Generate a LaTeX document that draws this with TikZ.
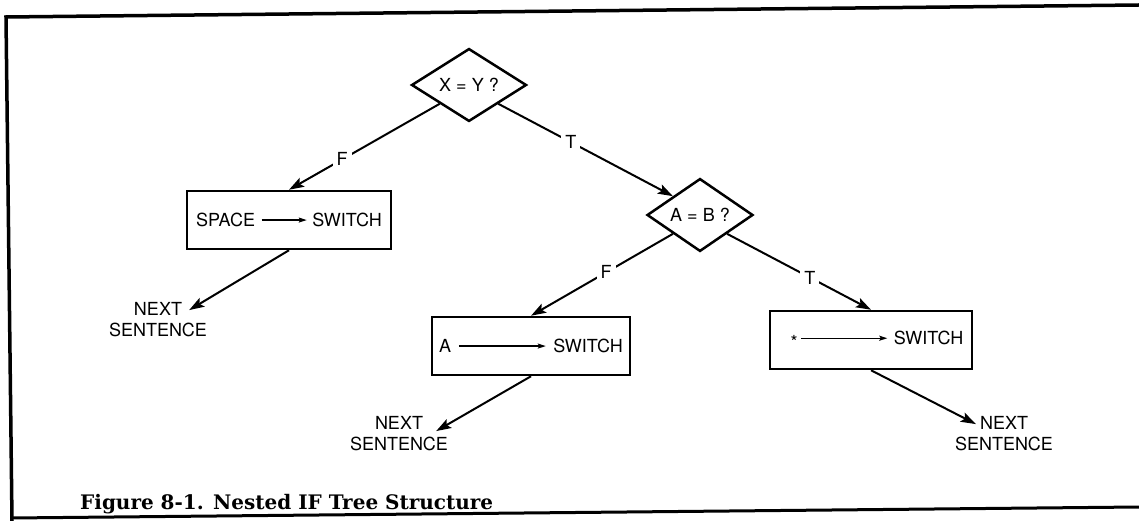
\documentclass[tikz,border=0pt]{standalone}
\usepackage{fontspec}
\usepackage{tikz}
\usetikzlibrary{shapes.geometric, arrows.meta}
\newfontfamily\helv{TeX Gyre Heros}
\newfontfamily\capfont{DejaVu Serif}
\newcommand{\flowfont}{\helv\fontsize{18}{21}\selectfont}
\tikzstyle{process} = [rectangle, minimum height=58pt, inner xsep=7pt, text centered, draw=black, line width=2.5pt, font=\flowfont]
\tikzstyle{decision} = [diamond, inner sep=0pt, text centered, draw=black, line width=2.5pt, font=\flowfont]
\tikzstyle{arrow} = [line width=2pt,-{Stealth[length=15pt,width=10pt,inset=3pt]}]
\tikzset{
  branch/.style={
    fill=white,
    inner sep=4pt,
    font=\flowfont
    },
  exit/.style={
    align=center,
    inner sep=0pt,
    font=\flowfont
    },
}
% small arrow inside the boxes: value -> switch
\newcommand{\moveto}[1]{\tikz[baseline=-6.5pt]\draw[line width=1.3pt,-{Stealth[length=8pt,width=5pt,inset=1.5pt]}] (0pt,0pt) -- (#1pt,0pt);}

\begin{document}
\begin{tikzpicture}[x=1pt, y=-1pt]
\useasboundingbox (0,0) rectangle (1139,521);
\fill[white] (0,0) rectangle (1139,521);

% frame
\draw[line width=3.5pt] (1139,5) -- (6,17) -- (12,521);
\draw[line width=3pt] (11,518) -- (1139,507);

\node (xy) [decision, minimum width=115pt, minimum height=65pt] at (469,85) {X = Y ?};
\node (space) [process, minimum width=204pt] at (289,220) {SPACE\hspace{6pt}\moveto{45}\hspace{5pt}SWITCH};
\node (next1) [exit] at (158,319.5) {NEXT\\SENTENCE};
\node (ab) [decision, minimum width=106pt, minimum height=60pt] at (700,215) {A = B ?};
\node (seta) [process, minimum width=198pt] at (531,346) {A\hspace{7pt}\moveto{87}\hspace{7pt}SWITCH};
\node (next2) [exit] at (399,433.5) {NEXT\\SENTENCE};
\node (star) [process, minimum width=202pt] at (871,340) {\hspace*{12pt}\raisebox{-4pt}{*}\hspace{3pt}\moveto{86}\hspace{6pt}SWITCH};
\node (next3) [exit] at (1004,433.5) {NEXT\\SENTENCE};

\draw [arrow] (xy.south west) -- node[branch, pos=0.647] {F} (space.north);
\draw [arrow] (xy.south east) -- node[branch, pos=0.415] {T} (ab.north west);
\draw [arrow] (space.south) -- ([xshift=-18pt,yshift=-8pt]next1.north east);

\draw [arrow] (ab.south west) -- node[branch, pos=0.47] {F} (seta.north);
\draw [arrow] (ab.south east) -- node[branch, pos=0.575] {T} (star.north);
\draw [arrow] (seta.south) -- ([xshift=-12pt,yshift=-15pt]next2.north east);
\draw [arrow] (star.south) -- ([xshift=21pt,yshift=-8pt]next3.north west);

\node (caption) [anchor=base west, inner sep=0pt, font=\capfont\bfseries\fontsize{20}{24}\selectfont] at (80,509) {Figure 8-1. Nested IF Tree Structure};
\end{tikzpicture}
\end{document}
